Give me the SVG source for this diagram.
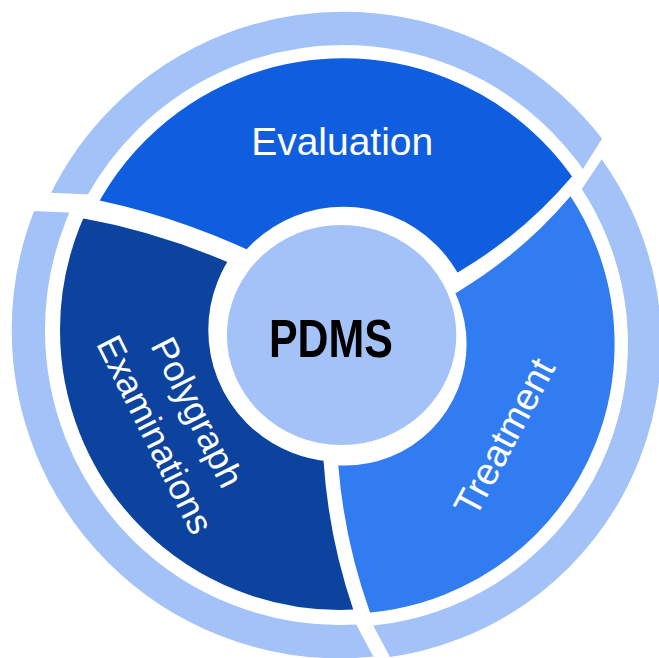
<svg xmlns="http://www.w3.org/2000/svg" width="659" height="658" viewBox="0 0 659 658">
  <style>
    .ring { fill: none; stroke: #A3C2F8; stroke-width: 33.3; }
    .seg { fill: none; }
    .lbl { font-family: "Liberation Sans", Arial, sans-serif; fill: #FFFFFF; text-anchor: middle; }
    .center-lbl { font-family: "Liberation Sans", Arial, sans-serif; font-weight: bold; fill: #000000; }
  </style>
  <defs>
    <clipPath id="clipE">
      <path d="M 270,260.3 Q 175,213.7 80,196.8 L 0,180 L 0,-10 L 670,-10 L 670,120 L 591.1,153.8 L 571.7,176.7 Q 524.4,232.5 461.7,270 L 436,285.4 L 343,338 Z"/>
    </clipPath>
    <clipPath id="clipA">
      <path d="M 120,195.7 L 10,190.9 L -10,-10 L 670,-10 L 625,102.5 L 567,194 Z"/>
    </clipPath>
    <clipPath id="clipP">
      <path d="M 270,281.3 Q 175,234.7 80,217.8 L 0,201 L -10,670 L 370,670 L 366.2,647.5 L 353.3,609.7 Q 328.6,537.2 323.5,460.6 L 320.9,420.7 L 300,330 Z"/>
    </clipPath>
    <clipPath id="clipC">
      <path d="M 110,214.6 L 0,209.5 L -10,680 L 379.5,668.2 L 341.9,597.5 Z"/>
    </clipPath>
    <clipPath id="clipT">
      <path d="M 423.7,312.3 L 458,291.7 Q 521.8,253.4 570,196.7 L 595.9,166.2 L 680,100 L 680,680 L 390,680 L 383.5,650 L 370,612.4 Q 344.4,541 338.3,465.4 L 335.1,425.5 L 345,344 Z"/>
    </clipPath>
    <clipPath id="clipB">
      <path d="M 565.6,213.2 L 623.9,126.1 L 680,100 L 680,680 L 397.5,671.2 L 359.9,600.5 Z"/>
    </clipPath>
  </defs>

  <rect x="0" y="0" width="659" height="658" fill="#FFFFFF"/>

  <g id="connectors"></g>

  <g id="node-evaluation">
    <circle class="ring" cx="343.5" cy="338.2" r="309.85" clip-path="url(#clipA)"/>
    <circle class="seg" cx="343.5" cy="338.2" r="205.7" stroke="#105EE0" stroke-width="148.4" clip-path="url(#clipE)"/>
    <text class="lbl" x="342.2" y="155" font-size="39">Evaluation</text>
  </g>

  <g id="node-treatment">
    <circle class="ring" cx="345.1" cy="344.1" r="299.5" clip-path="url(#clipB)"/>
    <circle class="seg" cx="345.1" cy="344.1" r="195.5" stroke="#317CF1" stroke-width="148" clip-path="url(#clipT)"/>
    <text class="lbl" font-size="38" transform="translate(515.9,443) rotate(-62)">Treatment</text>
  </g>

  <g id="node-polygraph">
    <circle class="ring" cx="339.9" cy="330.1" r="311.55" clip-path="url(#clipC)"/>
    <circle class="seg" cx="339.9" cy="330.1" r="205.75" stroke="#0B439F" stroke-width="148.3" clip-path="url(#clipP)"/>
    <text class="lbl" font-size="36" transform="translate(186.2,417.9) rotate(63.5)">Polygraph</text>
    <text class="lbl" font-size="36" transform="translate(144,440.2) rotate(63.5)">Examinations</text>
  </g>

  <g id="node-pdms">
    <ellipse cx="341.6" cy="335" rx="114.7" ry="110" fill="#A3C2F8"/>
    <text class="center-lbl" x="269" y="357" font-size="54.5" textLength="124" lengthAdjust="spacingAndGlyphs">PDMS</text>
  </g>
</svg>
